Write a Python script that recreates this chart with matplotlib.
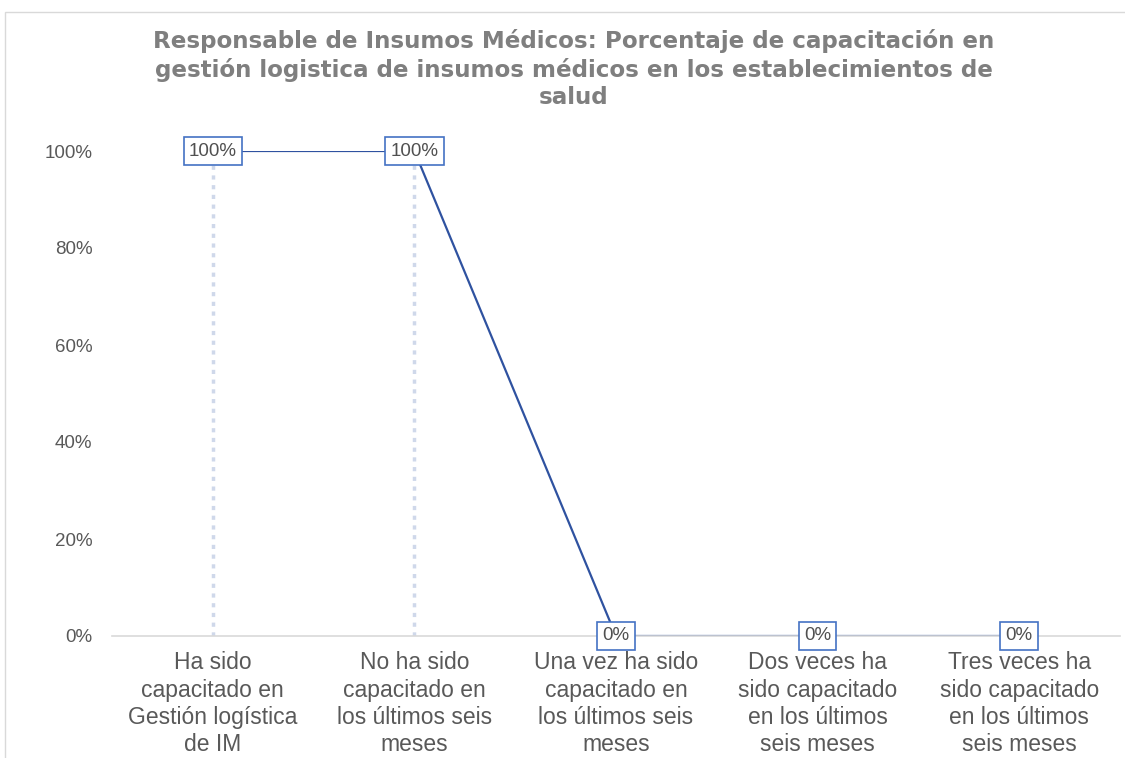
import matplotlib
matplotlib.use("Agg")
import matplotlib.pyplot as plt
from matplotlib.patches import Rectangle
from matplotlib.ticker import PercentFormatter

categories = [
    "Ha sido\ncapacitado en\nGestión logística\nde IM",
    "No ha sido\ncapacitado en\nlos últimos seis\nmeses",
    "Una vez ha sido\ncapacitado en\nlos últimos seis\nmeses",
    "Dos veces ha\nsido capacitado\nen los últimos\nseis meses",
    "Tres veces ha\nsido capacitado\nen los últimos\nseis meses",
]
values = [1.0, 1.0, 0.0, 0.0, 0.0]
labels = ["100%", "100%", "0%", "0%", "0%"]
title = ("Responsable de Insumos Médicos: Porcentaje de capacitación en\n"
         "gestión logistica de insumos médicos en los establecimientos de\nsalud")

plt.rcParams['font.family'] = ['Liberation Sans', 'DejaVu Sans']
W, H = 1125, 758
fig = plt.figure(figsize=(W/100, H/100), dpi=100)
fig.patch.set_facecolor('white')

# chart border
fig.patches.append(Rectangle((5/W, -0.1), 1.2, 1 - 12/H + 0.1, transform=fig.transFigure,
                             fill=False, edgecolor='#D9D9D9', linewidth=1.0))

ax = fig.add_axes([112/W, 1 - 636/H, (1120-112)/W, (636-151)/H])
line_color = '#2F52A0'
x = list(range(len(categories)))
ax.vlines(x, 0, values, colors='#CFD8EA', linestyles=(0, (1.2, 1.6)), linewidth=2.5, zorder=1)
ax.plot(x, values, color=line_color, linewidth=1.6, zorder=2)
for xi, v, lab in zip(x, values, labels):
    ax.text(xi, v, lab, ha='center', va='center', fontsize=13.5, color='#505050', zorder=3,
            bbox=dict(boxstyle='square,pad=0.28', facecolor='white', edgecolor='#4472C4', linewidth=1.2))

ax.set_xlim(-0.5, len(categories) - 0.5)
ax.set_ylim(0, 1)
ax.set_yticks([0, 0.2, 0.4, 0.6, 0.8, 1.0])
ax.yaxis.set_major_formatter(PercentFormatter(1.0, decimals=0))
ax.set_xticks(x)
ax.set_xticklabels(categories, fontsize=16.5, color='#595959', linespacing=1.24)
ax.tick_params(axis='y', length=0, labelsize=13.5, labelcolor='#595959', pad=14)
ax.tick_params(axis='x', length=0, pad=11)
for s in ['top', 'right', 'left']:
    ax.spines[s].set_visible(False)
ax.spines['bottom'].set_color('#D9D9D9')
ax.spines['bottom'].set_linewidth(1.2)

fig.text(574/W, 1 - 69/H, title, ha='center', va='center', fontsize=16.6, fontweight='bold',
         family=['DejaVu Sans'], color='#7F7F7F', linespacing=1.25)

fig.savefig('out.png', dpi=100)
